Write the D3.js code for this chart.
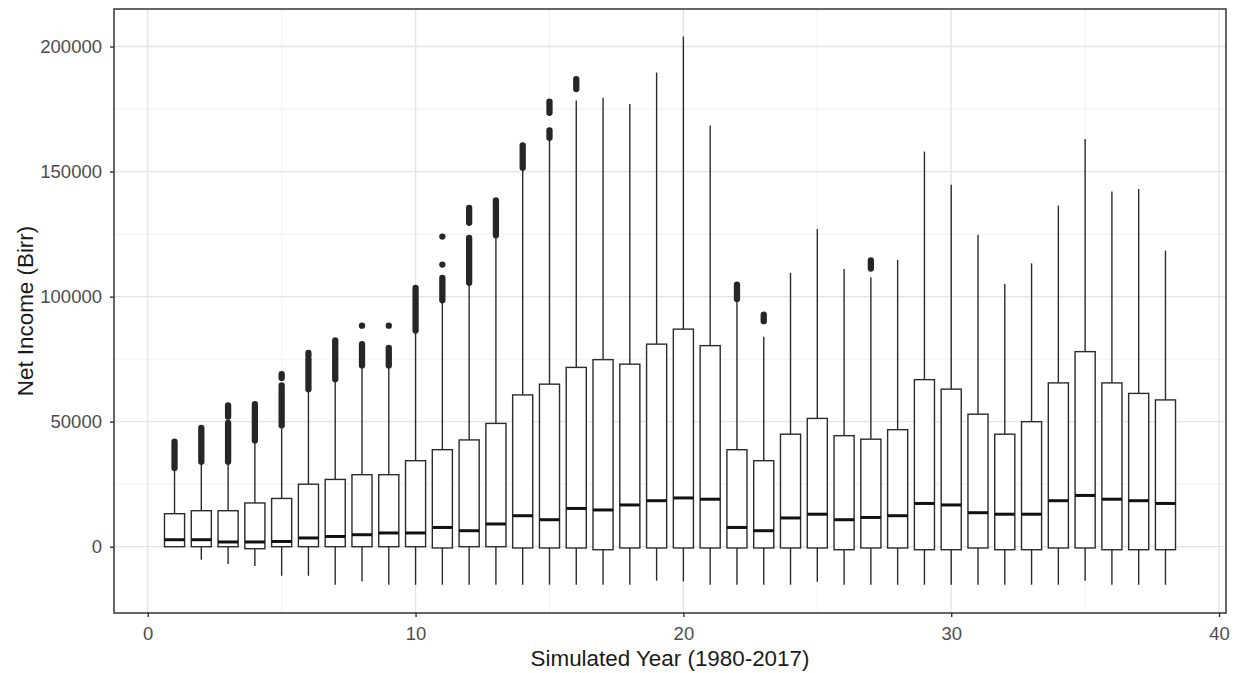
<!DOCTYPE html>
<html>
<head>
<meta charset="utf-8">
<script src="https://cdn.jsdelivr.net/npm/d3@7"></script>
<style>
  body { margin: 0; background: #fff; }
  svg text { font-family: "Liberation Sans", Arial, sans-serif; }
</style>
</head>
<body>
<div id="chart"></div>
<script>
// simulated year index
const years = d3.range(1, 39);

// box stats per year (Birr)
const q1 =     [0, 0, 0, -800, 0, 0, 0, 0, 0, 0, -500, 0, 0, -500, -500, -500, -1200, -500, -500, -500,
                -500, -500, -500, -500, -500, -1200, -500, -500, -1200, -1200, -500, -1200, -1200, -500, -500, -1200, -1200, -1200];
const medians = [2800, 2800, 1900, 1900, 2100, 3500, 4100, 4800, 5500, 5500, 7700, 6400, 9100, 12400, 10800, 15300, 14700, 16700, 18400, 19500,
                19000, 7700, 6400, 11500, 13000, 10800, 11700, 12400, 17300, 16700, 13600, 13000, 13000, 18400, 20500, 19000, 18400, 17300];
const q3 =     [13200, 14400, 14400, 17500, 19300, 25000, 26900, 28800, 28800, 34400, 38800, 42700, 49300, 60700, 65000, 71700, 74800, 73000, 81000, 87000,
                80400, 38800, 34400, 45000, 51300, 44400, 43000, 46800, 66800, 63000, 53000, 45000, 50000, 65500, 78000, 65500, 61300, 58700];
const whiskerLo = [0, -5200, -6900, -7700, -11600, -11600, -15200, -13900, -15200, -15200, -15200, -15200, -15200, -15200, -15200, -15200, -15200, -15200, -13600, -13900,
                -15200, -15200, -15200, -15200, -14000, -15200, -15200, -15200, -15200, -15200, -15200, -15200, -15200, -15200, -13600, -15200, -15200, -15200];
const whiskerHi = [30800, 33300, 33300, 41500, 47300, 62400, 66000, 71700, 71700, 86000, 97700, 105000, 123700, 151000, 163000, 178400, 179500, 177000, 189600, 204000,
                168400, 98400, 84000, 109500, 127000, 111000, 107700, 114700, 158000, 144700, 124700, 105000, 113300, 136400, 163000, 142000, 143000, 118400];

// outliers, as [low, high] runs of dense points (a single point has low == high)
const outliers = [
  [[31500, 42000]],
  [[34000, 47500]],
  [[34000, 49500], [52000, 56500]],
  [[42500, 57000]],
  [[48500, 64500], [67500, 69000]],
  [[63000, 75000], [76500, 77500]],
  [[67000, 82500]],
  [[72500, 81000], [88400, 88400]],
  [[72500, 79500], [88400, 88400]],
  [[86500, 96500], [97500, 103500]],
  [[98500, 107500], [112800, 112800], [124000, 124000]],
  [[105500, 123500], [129500, 135500]],
  [[124500, 138500]],
  [[151500, 160500]],
  [[163500, 166500], [173500, 178000]],
  [[183000, 187000]],
  [], [], [], [], [],
  [[99000, 104800]],
  [[90200, 92800]],
  [], [], [],
  [[111200, 114500]],
  [], [], [], [], [], [], [], [], [], [], []
];

const xTicks = [0, 10, 20, 30, 40];
const xMinor = [5, 15, 25, 35];
const yTicks = [0, 50000, 100000, 150000, 200000];
const yMinor = [25000, 75000, 125000, 175000];

const width = 1237, height = 673;
const margin = { top: 9, right: 11, bottom: 60, left: 114 };

const svg = d3.select("#chart").append("svg")
  .attr("width", width)
  .attr("height", height);

const x = d3.scaleLinear()
  .domain([-1.26, 40.26])
  .range([margin.left, width - margin.right]);

const y = d3.scaleLinear()
  .domain([-26500, 215000])
  .range([height - margin.bottom, margin.top]);

const boxW = x(0.75) - x(0);

// grid
const grid = svg.append("g");
grid.selectAll(".xminor").data(xMinor).enter().append("line")
  .attr("x1", d => x(d)).attr("x2", d => x(d))
  .attr("y1", margin.top).attr("y2", height - margin.bottom)
  .attr("stroke", "#ebebeb").attr("stroke-width", 0.7);
grid.selectAll(".yminor").data(yMinor).enter().append("line")
  .attr("x1", margin.left).attr("x2", width - margin.right)
  .attr("y1", d => y(d)).attr("y2", d => y(d))
  .attr("stroke", "#ebebeb").attr("stroke-width", 0.7);
grid.selectAll(".xmajor").data(xTicks).enter().append("line")
  .attr("x1", d => x(d)).attr("x2", d => x(d))
  .attr("y1", margin.top).attr("y2", height - margin.bottom)
  .attr("stroke", "#e3e3e3").attr("stroke-width", 1.3);
grid.selectAll(".ymajor").data(yTicks).enter().append("line")
  .attr("x1", margin.left).attr("x2", width - margin.right)
  .attr("y1", d => y(d)).attr("y2", d => y(d))
  .attr("stroke", "#e3e3e3").attr("stroke-width", 1.3);

// boxes
const boxes = years.map((yr, i) => ({
  yr: yr, lo: whiskerLo[i], q1: q1[i], med: medians[i], q3: q3[i], hi: whiskerHi[i], out: outliers[i]
}));

const g = svg.append("g").selectAll("g").data(boxes).enter().append("g");

// whiskers
g.append("line")
  .attr("x1", d => x(d.yr)).attr("x2", d => x(d.yr))
  .attr("y1", d => y(d.q3)).attr("y2", d => y(d.hi))
  .attr("stroke", "#2b2b2b").attr("stroke-width", 1.4);
g.append("line")
  .attr("x1", d => x(d.yr)).attr("x2", d => x(d.yr))
  .attr("y1", d => y(d.q1)).attr("y2", d => y(d.lo))
  .attr("stroke", "#2b2b2b").attr("stroke-width", 1.4);

// box body
g.append("rect")
  .attr("x", d => x(d.yr) - boxW / 2)
  .attr("width", boxW)
  .attr("y", d => y(d.q3))
  .attr("height", d => y(d.q1) - y(d.q3))
  .attr("fill", "#fff")
  .attr("stroke", "#2b2b2b")
  .attr("stroke-width", 1.4);

// median
g.append("line")
  .attr("x1", d => x(d.yr) - boxW / 2).attr("x2", d => x(d.yr) + boxW / 2)
  .attr("y1", d => y(d.med)).attr("y2", d => y(d.med))
  .attr("stroke", "#111").attr("stroke-width", 3);

// outliers
g.selectAll(".out").data(d => d.out.map(r => ({ yr: d.yr, lo: r[0], hi: r[1] })))
  .enter().append("line")
  .attr("x1", d => x(d.yr)).attr("x2", d => x(d.yr))
  .attr("y1", d => y(d.lo)).attr("y2", d => y(d.hi))
  .attr("stroke", "#262626")
  .attr("stroke-width", 6.3)
  .attr("stroke-linecap", "round");

// panel border
svg.append("rect")
  .attr("x", margin.left).attr("y", margin.top)
  .attr("width", width - margin.left - margin.right)
  .attr("height", height - margin.top - margin.bottom)
  .attr("fill", "none")
  .attr("stroke", "#333")
  .attr("stroke-width", 1.5);

// axes
const xAxis = svg.append("g")
  .attr("transform", `translate(0,${height - margin.bottom})`)
  .call(d3.axisBottom(x).tickValues(xTicks).tickSize(4).tickPadding(10));
const yAxis = svg.append("g")
  .attr("transform", `translate(${margin.left},0)`)
  .call(d3.axisLeft(y).tickValues(yTicks).tickSize(4).tickPadding(8).tickFormat(d3.format("d")));

[xAxis, yAxis].forEach(a => {
  a.select(".domain").remove();
  a.selectAll(".tick line").attr("stroke", "#333").attr("stroke-width", 1.4);
  a.selectAll(".tick text")
    .attr("fill", "#4d4d4d")
    .style("font-size", "18.5px")
    .style("font-family", "'Liberation Sans', Arial, sans-serif");
});

// titles
svg.append("text")
  .attr("x", (margin.left + width - margin.right) / 2)
  .attr("y", 666)
  .attr("text-anchor", "middle")
  .attr("fill", "#1a1a1a")
  .style("font-size", "22.4px")
  .text("Simulated Year (1980-2017)");

svg.append("text")
  .attr("transform", `translate(33,${(margin.top + height - margin.bottom) / 2}) rotate(-90)`)
  .attr("text-anchor", "middle")
  .attr("fill", "#1a1a1a")
  .style("font-size", "22.4px")
  .text("Net Income (Birr)");
</script>
</body>
</html>
